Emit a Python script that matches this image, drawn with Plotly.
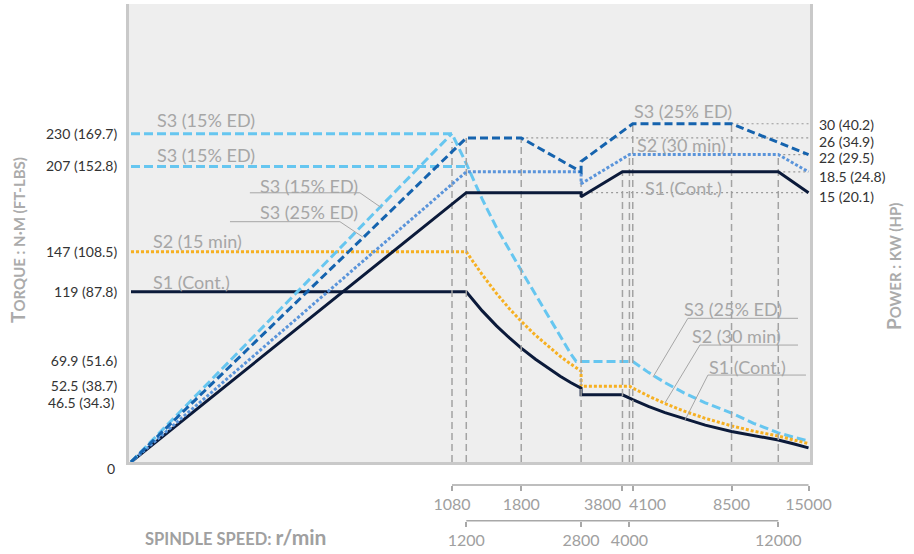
import numpy as np
import plotly.graph_objects as go

# ---------------- data ----------------
SPEED_TICKS_UPPER = [1080, 1800, 3800, 4100, 8500, 15000]
SPEED_TICKS_LOWER = [1200, 2800, 4000, 12000]

TORQUE_TICKS = [52.5, 69.9, 119, 147, 207, 230]
TORQUE_TICK_TEXT = ["52.5 (38.7)", "69.9 (51.6)", "119 (87.8)", "147 (108.5)",
                    "207 (152.8)", "230 (169.7)"]
TORQUE_TICKS_LOW = [0, 46.5]
TORQUE_TICK_TEXT_LOW = ["0", "46.5 (34.3)"]
POWER_TICKS = [15, 18.5, 22, 26, 30]
POWER_TICK_TEXT = ["15 (20.1)", "18.5 (24.8)", "22 (29.5)", "26 (34.9)", "30 (40.2)"]

# torque curves (N·m vs r/min)
S1_T_SPEED = [0, 1200, 1350, 1500, 1650, 1800, 2000, 2200, 2400, 2600, 2800, 2800,
              3800, 4100, 4600, 5200, 6000, 7000, 8500, 10000, 12000, 13500, 15000]
S1_T = [119, 119, 105.5, 95, 86.5, 79.3, 71.5, 65, 59.5, 55, 51.2, 46.5,
        46.5, 43.1, 38.4, 34, 29.5, 25.2, 20.8, 17.7, 14.7, 11.9, 9.2]

S2_T_SPEED = [0, 1200, 1350, 1500, 1650, 1800, 2000, 2200, 2400, 2600, 2800, 2800,
              4000, 4600, 5200, 6000, 7000, 8500, 10000, 12000, 13500, 15000]
S2_T = [147, 147, 131, 117.8, 107, 98.2, 88.4, 80.3, 73.6, 68, 63.2, 52.5,
        52.5, 45.7, 40.4, 35, 30, 24.7, 21, 17.5, 14.6, 12.2]

S3A_T_SPEED = [0, 1080, 1200, 1350, 1500, 1650, 1800, 2000, 2200, 2400, 2600, 2700, 2800,
               4100, 4600, 5200, 6000, 7000, 8500, 10000, 12000, 13500, 15000]
S3A_T = [230, 230, 209, 184, 164, 148, 134, 117, 101.5, 87.5, 75, 70, 69.9,
         69.9, 62.3, 55.1, 47.7, 40.9, 33.7, 26.5, 19.8, 16.6, 14]

S3B_T_SPEED = [0, 1200]
S3B_T = [207, 207]

# power curves (kW vs r/min, logarithmic power scale)
S1_P_SPEED = [0, 1200, 2800, 2800, 3800, 12000, 15000]
S1_P = [1, 15, 15, 14.4, 18.5, 18.5, 15]

S2_P_SPEED = [0, 1200, 2800, 2800, 4000, 12000, 15000]
S2_P = [1, 18.5, 18.5, 16.4, 22, 22, 18.5]

S3_25_P_SPEED = [0, 1200, 1800, 2800, 2800, 4100, 8500, 15000]
S3_25_P = [1, 26, 26, 18.5, 20.5, 30, 30, 22]

S3_15_P_SPEED = [0, 1080]
S3_15_P = [1, 27.2]

# guide lines
VREF_SPEED = [1080, 1200, 1800, 2800, 3800, 4000, 4100, 8500, 12000]
VREF_TOP_KW = [25, 26, 26, 18.5, 18.5, 22, 30, 30, 22]
HREF_KW = [30, 26, 22, 18.5, 15]
HREF_FROM_SPEED = [8500, 1800, 12000, 12000, 2800]
MAX_SPEED = 15000

# ---------------- speed scale: linear up to 1080 r/min, logarithmic above ----------------
BREAK_SPEED = 1080.0
LIN_SPAN = 321.0
DECADE_SPAN = 312.0


def xpos(speed):
    s = np.asarray(speed, dtype=float)
    return np.where(s <= BREAK_SPEED, s / BREAK_SPEED * LIN_SPAN,
                    LIN_SPAN + DECADE_SPAN * np.log10(np.maximum(s, BREAK_SPEED) / BREAK_SPEED))


def xp(speed):
    return float(xpos(speed))


X_RANGE = [-2.0, 679.0]
Y_RANGE = [-0.7, 321.2]
P_RANGE = [0.0, 2.0]

FONT = "Lato"
NAVY = "#0b1a3a"
ORANGE = "#f6b022"
SKY = "#66c6f0"
DARKBLUE = "#1563ae"
CORNFLOWER = "#5a94da"
GUIDE = "#a3a3a3"
LABEL = "#a6a6a6"
TICK_DARK = "#333333"

fig = go.Figure()

# guide lines
vx, vy = [], []
for s, top in zip(VREF_SPEED, VREF_TOP_KW):
    vx += [xp(s), xp(s), None]
    vy += [1, top, None]
fig.add_trace(go.Scatter(x=vx, y=vy, yaxis="y2", mode="lines", hoverinfo="skip",
                         line=dict(color=GUIDE, width=1.5, dash="7px,4px"), showlegend=False))
hx, hy = [], []
for kw, s0 in zip(HREF_KW, HREF_FROM_SPEED):
    hx += [xp(s0), xp(MAX_SPEED), None]
    hy += [kw, kw, None]
fig.add_trace(go.Scatter(x=hx, y=hy, yaxis="y2", mode="lines", hoverinfo="skip",
                         line=dict(color="#9a9a9a", width=1.2, dash="2px,3px"), showlegend=False))

# power curves
fig.add_trace(go.Scatter(x=xpos(S1_P_SPEED), y=S1_P, yaxis="y2", mode="lines", name="S1 power",
                         line=dict(color=NAVY, width=3), showlegend=False))
fig.add_trace(go.Scatter(x=xpos(S2_P_SPEED), y=S2_P, yaxis="y2", mode="lines", name="S2 power",
                         line=dict(color=CORNFLOWER, width=3, dash="3px,2px"), showlegend=False))
fig.add_trace(go.Scatter(x=xpos(S3_15_P_SPEED), y=S3_15_P, yaxis="y2", mode="lines", name="S3 15% power",
                         line=dict(color=SKY, width=3, dash="9px,4px"), showlegend=False))
fig.add_trace(go.Scatter(x=xpos(S3_25_P_SPEED), y=S3_25_P, yaxis="y2", mode="lines", name="S3 25% power",
                         line=dict(color=DARKBLUE, width=3, dash="8px,4px"), showlegend=False))

# torque curves
fig.add_trace(go.Scatter(x=xpos(S3B_T_SPEED), y=S3B_T, mode="lines", name="S3 torque 207",
                         line=dict(color=SKY, width=3, dash="9px,4px"), showlegend=False))
fig.add_trace(go.Scatter(x=xpos(S3A_T_SPEED), y=S3A_T, mode="lines", name="S3 torque",
                         line=dict(color=SKY, width=3, dash="9px,4px"), showlegend=False))
fig.add_trace(go.Scatter(x=xpos(S2_T_SPEED), y=S2_T, mode="lines", name="S2 torque",
                         line=dict(color=ORANGE, width=3, dash="3px,2px"), showlegend=False))
fig.add_trace(go.Scatter(x=xpos(S1_T_SPEED), y=S1_T, mode="lines", name="S1 torque",
                         line=dict(color=NAVY, width=3), showlegend=False))

# empty traces so that the speed-row axes are drawn
fig.add_trace(go.Scatter(x=[], y=[], xaxis="x2", yaxis="y", showlegend=False, hoverinfo="skip"))
fig.add_trace(go.Scatter(x=[], y=[], xaxis="x3", yaxis="y", showlegend=False, hoverinfo="skip"))

# ---------------- curve labels ----------------
CURVE_LABELS = [
    ("S3 (15% ED)", 81, 239.6),
    ("S3 (15% ED)", 81, 215.3),
    ("S3 (15% ED)", 427, 193.3),
    ("S3 (25% ED)", 427, 175.0),
    ("S2 (15 min)", 67, 154.8),
    ("S1 (Cont.)", 67, 125.8),
    ("S3 (25% ED)", 4068, 246.0),
    ("S2 (30 min)", 4170, 222.0),
    ("S1 (Cont.)", 4430, 191.8),
    ("S3 (25% ED)", 5880, 107.0),
    ("S2 (30 min)", 6250, 88.0),
    ("S1 (Cont.)", 7070, 66.4),
]
annotations = []
for txt, s, t in CURVE_LABELS:
    annotations.append(dict(text=txt, x=xp(s), y=t, xref="x", yref="y",
                            xanchor="left", yanchor="middle", showarrow=False,
                            font=dict(family=FONT, size=18, color=LABEL)))

# leader lines: (underline start, underline end, torque level, target speed, target torque, side)
LEADERS = [
    (400, 770, 188.5, 844, 177.8, "right"),
    (333, 703, 168.2, 780, 157.4, "right"),
    (6160, 13880, 100.3, 4760, 59.0, "left"),
    (6730, 13880, 81.5, 5200, 40.8, "left"),
    (7140, 14720, 60.4, 6030, 28.8, "left"),
]
shapes = []
for s0, s1, lvl, ts, tt, side in LEADERS:
    x0, x1 = xp(s0), xp(s1)
    shapes.append(dict(type="line", xref="x", yref="y", x0=x0, x1=x1, y0=lvl, y1=lvl,
                       line=dict(color=LABEL, width=1)))
    xs = x1 if side == "right" else x0
    shapes.append(dict(type="line", xref="x", yref="y", x0=xs, x1=xp(ts), y0=lvl, y1=tt,
                       line=dict(color=LABEL, width=1)))

# torque labels that sit a little below their level, and the power labels
TICK_FONT = dict(family=FONT, size=14, color=TICK_DARK)
for val, txt, dy in zip(TORQUE_TICKS_LOW, TORQUE_TICK_TEXT_LOW, [-7, -8]):
    annotations.append(dict(text=txt, xref="paper", x=0, xanchor="right", xshift=-12,
                            yref="y", y=val, yanchor="middle", yshift=dy, showarrow=False,
                            font=TICK_FONT))
for val, txt, dy in zip(POWER_TICKS, POWER_TICK_TEXT, [-4, -5, -3, -3.5, -1]):
    annotations.append(dict(text=txt, xref="paper", x=1, xanchor="left", xshift=7,
                            yref="y2", y=float(np.log10(val)), yanchor="middle", yshift=dy,
                            showarrow=False, font=TICK_FONT))

# axis titles
TITLE_GRAY = "#ababab"
annotations.append(dict(
    text="<b>T<span style='font-size:15px'>ORQUE : N·M (FT-LBS)</span></b>",
    xref="paper", yref="paper", x=-0.163, y=0.571, textangle=-90, showarrow=False,
    xanchor="center", yanchor="middle", font=dict(family=FONT, size=19, color=TITLE_GRAY)))
annotations.append(dict(
    text="<b>P<span style='font-size:15px'>OWER : KW (HP)</span></b>",
    xref="paper", yref="paper", x=1.122, y=0.5236, textangle=-90, showarrow=False,
    xanchor="center", yanchor="middle", font=dict(family=FONT, size=19, color=TITLE_GRAY)))
annotations.append(dict(
    text="<b>SPINDLE SPEED: <span style='font-size:21px'>r/min</span></b>",
    xref="paper", yref="paper", x=0.0206, y=0.031, showarrow=False,
    xanchor="left", yanchor="middle", font=dict(family=FONT, size=16.5, color="#a0a0a0")))

# ---------------- layout ----------------
W, H = 914, 554
ML, MR, MT, MB = 129, 104, 4, 0
plot_h = H - MT - MB
Y_DOMAIN_BOTTOM = (H - 462) / plot_h
ROW1_POS = (H - 485) / plot_h
ROW2_POS = (H - 520.7) / plot_h

ROW_COLOR = "#a8a8a8"
ROW_FONT = dict(family=FONT, size=16, color="#a0a0a0")

# speed row base lines
shapes.append(dict(type="line", xref="x", yref="paper", x0=xp(SPEED_TICKS_UPPER[0]),
                   x1=xp(SPEED_TICKS_UPPER[-1]), y0=ROW1_POS, y1=ROW1_POS,
                   line=dict(color=ROW_COLOR, width=1.5)))
shapes.append(dict(type="line", xref="x", yref="paper", x0=xp(SPEED_TICKS_LOWER[0]),
                   x1=xp(SPEED_TICKS_LOWER[-1]), y0=ROW2_POS, y1=ROW2_POS,
                   line=dict(color=ROW_COLOR, width=1.5)))

# the two close upper-row labels are placed either side of their ticks
upper_text = [("" if v in (3800, 4100) else str(v)) for v in SPEED_TICKS_UPPER]
annotations.append(dict(text="3800", xref="x", x=xp(3800), xanchor="right", xshift=1,
                        yref="paper", y=ROW1_POS, yanchor="middle", yshift=-18,
                        showarrow=False, font=ROW_FONT))
annotations.append(dict(text="4100", xref="x", x=xp(4100), xanchor="left", xshift=-6,
                        yref="paper", y=ROW1_POS, yanchor="middle", yshift=-18,
                        showarrow=False, font=ROW_FONT))

AX_LINE = "#c9c9c9"

fig.update_layout(
    width=W, height=H, margin=dict(l=ML, r=MR, t=MT, b=MB, pad=0),
    paper_bgcolor="white", plot_bgcolor="#eeeeee", hovermode=False, showlegend=False,
    font=dict(family=FONT),
    xaxis=dict(range=X_RANGE, showgrid=False, zeroline=False, showticklabels=False, ticks="",
               showline=True, linecolor=AX_LINE, linewidth=3),
    xaxis2=dict(overlaying="x", range=X_RANGE, anchor="free", position=ROW1_POS,
                showgrid=False, zeroline=False, showline=False,
                tickvals=[float(v) for v in xpos(SPEED_TICKS_UPPER)], ticktext=upper_text,
                tickangle=0, ticks="outside", ticklen=5, tickwidth=1.5, tickcolor=ROW_COLOR,
                tickfont=ROW_FONT),
    xaxis3=dict(overlaying="x", range=X_RANGE, anchor="free", position=ROW2_POS,
                showgrid=False, zeroline=False, showline=False,
                tickvals=[float(v) for v in xpos(SPEED_TICKS_LOWER)],
                ticktext=[str(v) for v in SPEED_TICKS_LOWER],
                tickangle=0, ticks="outside", ticklen=5, tickwidth=1.5, tickcolor=ROW_COLOR,
                tickfont=ROW_FONT),
    yaxis=dict(domain=[Y_DOMAIN_BOTTOM, 1], range=Y_RANGE, showgrid=False, zeroline=False,
               showline=True, linecolor=AX_LINE, linewidth=3,
               tickvals=TORQUE_TICKS, ticktext=TORQUE_TICK_TEXT, ticks="",
               ticklabelstandoff=6, tickfont=TICK_FONT),
    yaxis2=dict(overlaying="y", side="right", type="log", range=P_RANGE, showgrid=False,
                zeroline=False, showline=True, linecolor=AX_LINE, linewidth=3,
                tickvals=POWER_TICKS, showticklabels=False, ticks=""),
    annotations=annotations,
    shapes=shapes,
)

fig.write_html("out.html", config={"displayModeBar": False},
               post_script="document.body.style.margin='0';document.body.style.overflow='hidden';")
